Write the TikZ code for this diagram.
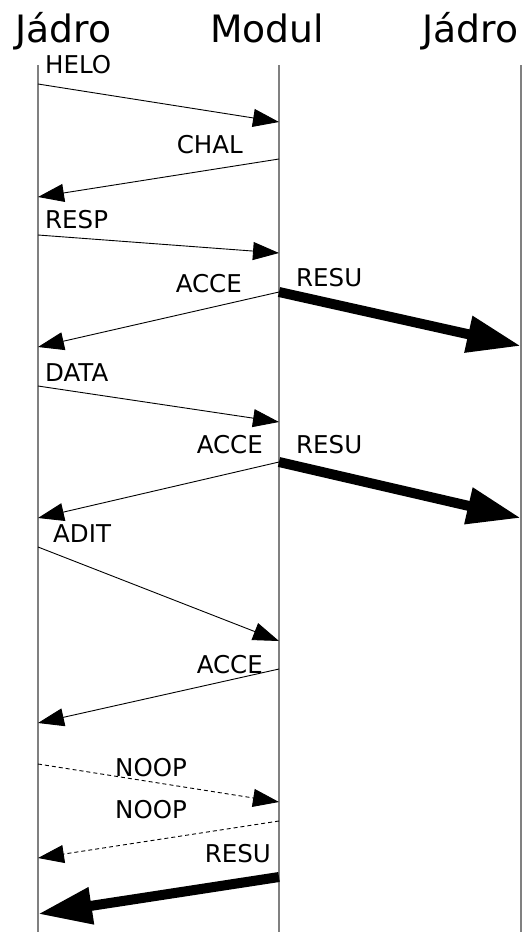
\documentclass[tikz,border=0pt]{standalone}
\usepackage{fontspec}
\setmainfont{DejaVu Sans}
\usetikzlibrary{arrows.meta}

\begin{document}
\begin{tikzpicture}[x=1pt,y=-1pt,
     zivot/.style={draw=black!50,line width=1.4pt},
     zprava/.style={draw,line width=0.9pt,-{Triangle[length=26pt,width=18pt]}},
     tlusta/.style={draw,line width=10pt,-{Triangle[length=54pt,width=35pt]}},
     prazdna/.style={zprava,dash pattern=on 4pt off 3pt},
     hlava/.style={inner sep=0pt,font=\fontsize{37.7}{40}\selectfont},
     popis/.style={inner sep=0pt,font=\fontsize{24.5}{26}\selectfont}]
\useasboundingbox (0,0) rectangle (522,932);
%% Draw headers and lifelines
  \node [hlava,anchor=base west] (jadro)  at (15,42)  {Jádro};
  \node [hlava,anchor=base west] (modul)  at (210,42) {Modul};
  \node [hlava,anchor=base west] (jadro2) at (422,42) {Jádro};
  \coordinate (Ltop) at (38,65);  \coordinate (Lbot) at (38,932);
  \coordinate (Mtop) at (279,65); \coordinate (Mbot) at (279,932);
  \coordinate (Rtop) at (521,65); \coordinate (Rbot) at (521,932);
  \draw [zivot] (Ltop) -- (Lbot);
  \draw [zivot] (Mtop) -- (Mbot);
  \draw [zivot] (Rtop) -- (Rbot);

%% Points on lifelines
  \coordinate (helo1) at (38,84);   \coordinate (helo2) at (279,122);
  \coordinate (chal1) at (279,159); \coordinate (chal2) at (38,197);
  \coordinate (resp1) at (38,235);  \coordinate (resp2) at (279,253);
  \coordinate (acce1) at (279,292); \coordinate (acce2) at (38,347);
  \coordinate (resu1) at (279,292); \coordinate (resu2) at (521,346);
  \coordinate (data1) at (38,386);  \coordinate (data2) at (279,422);
  \coordinate (accb1) at (279,462); \coordinate (accb2) at (38,518);
  \coordinate (resb1) at (279,462); \coordinate (resb2) at (521,518);
  \coordinate (adit1) at (38,547);  \coordinate (adit2) at (279,641);
  \coordinate (accc1) at (279,669); \coordinate (accc2) at (38,723);
  \coordinate (noop1) at (38,764);  \coordinate (noop2) at (279,802);
  \coordinate (noob1) at (279,821); \coordinate (noob2) at (38,858);
  \coordinate (resc1) at (279,877); \coordinate (resc2) at (38,914);

%% Draw messages
  \draw [zprava] (helo1) -- (helo2);
  \draw [zprava] (chal1) -- (chal2);
  \draw [zprava] (resp1) -- (resp2);
  \draw [zprava] (acce1) -- (acce2);
  \draw [tlusta] (resu1) -- (resu2);
  \draw [zprava] (data1) -- (data2);
  \draw [zprava] (accb1) -- (accb2);
  \draw [tlusta] (resb1) -- (resb2);
  \draw [zprava] (adit1) -- (adit2);
  \draw [zprava] (accc1) -- (accc2);
  \draw [prazdna] (noop1) -- (noop2);
  \draw [prazdna] (noob1) -- (noob2);
  \draw [tlusta] (resc1) -- (resc2);

%% Labels
  \node [popis,anchor=base west] (lhelo) at (45,73)   {HELO};
  \node [popis,anchor=base east] (lchal) at (243,153) {CHAL};
  \node [popis,anchor=base west] (lresp) at (45,228)  {RESP};
  \node [popis,anchor=base east] (lacce) at (242,292) {ACCE};
  \node [popis,anchor=base west] (lresu) at (296,286) {RESU};
  \node [popis,anchor=base west] (ldata) at (45,381)  {DATA};
  \node [popis,anchor=base east] (laccb) at (263,453) {ACCE};
  \node [popis,anchor=base west] (lresb) at (296,453) {RESU};
  \node [popis,anchor=base west] (ladit) at (53,542)  {ADIT};
  \node [popis,anchor=base east] (laccc) at (263,673) {ACCE};
  \node [popis,anchor=base west] (lnoop) at (115,776) {NOOP};
  \node [popis,anchor=base west] (lnoob) at (115,818) {NOOP};
  \node [popis,anchor=base east] (lresc) at (271,862) {RESU};
\end{tikzpicture}
\end{document}
